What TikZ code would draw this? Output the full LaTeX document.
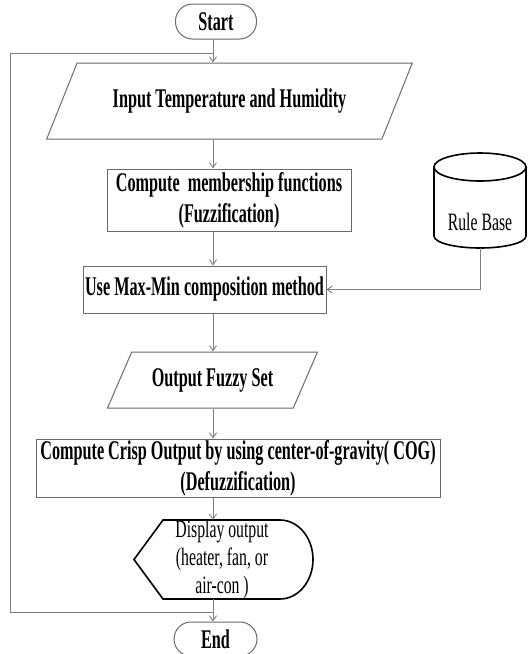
\documentclass[tikz,border=0pt]{standalone}
\usepackage{fontspec}
\setmainfont{Liberation Serif}
\newfontfamily\cnd[FakeStretch=0.6]{Liberation Serif}
\newfontfamily\cndr[FakeStretch=0.63]{Liberation Serif}
\usetikzlibrary{arrows.meta,shapes.geometric}
\definecolor{linegrey}{HTML}{808080}
\definecolor{boxgrey}{HTML}{6A6A6A}
\begin{document}
\begin{tikzpicture}[x=1pt,y=-1pt,
  lbl/.style={font=\cnd\bfseries\fontsize{27}{31}\selectfont, align=center, inner sep=0pt, text=black},
  rlbl/.style={font=\cndr\fontsize{25}{28}\selectfont, align=center, inner sep=0pt, text=black},
  conn/.style={draw=linegrey, line width=0.9pt},
  arr/.style={conn, -{Straight Barb[length=5pt,width=7pt]}},
  box/.style={draw=boxgrey, line width=1pt, lbl},
  term/.style={box, rounded corners=17pt},
  para/.style={box, trapezium, trapezium stretches=true},
  heavy/.style={draw=black, line width=1.6pt}]
\useasboundingbox (0,0) rectangle (531,654);
\coordinate (c) at (213,0);
% nodes
\node[term, minimum width=81pt, minimum height=35pt] (start) at (216,21.5) {Start};
\node[para, trapezium left angle=46.5, trapezium right angle=133.5, minimum width=367pt, minimum height=76pt] (in) at (229.5,101) {\raisebox{-3pt}{Input Temperature and Humidity}};
\node[box, minimum width=244pt, minimum height=62pt] (cm) at (229,200) {Compute\ \ membership functions\\(Fuzzification)};
\node[box, minimum width=243pt, minimum height=47pt] (use) at (204.5,289.5) {Use Max-Min composition method};
\node[para, trapezium left angle=52.5, trapezium right angle=127.5, minimum width=210pt, minimum height=56pt] (ofs) at (212.5,380) {Output Fuzzy Set};
\node[box, minimum width=404pt, minimum height=58pt] (crisp) at (238,468) {Compute Crisp Output by using center-of-gravity( COG)\\(Defuzzification)};
\node[rlbl, minimum height=79pt] (disp) at (222,559.5) {Display output\\(heater, fan, or\\air-con )};
\draw[heavy] (134,559.5) -- (163,520) -- (280,520) arc[start angle=-90, end angle=90, x radius=33, y radius=39.5] -- (163,599) -- cycle;
\node[term, minimum width=83pt, minimum height=34pt] (end) at (215.5,639) {End};
% rule base cylinder
\draw[heavy] (434,167) -- (434,236) arc[start angle=180, end angle=0, x radius=46, y radius=12] -- (526,167);
\draw[heavy] (480,167) ellipse[x radius=46, y radius=14];
\node[rlbl] (rb) at (480,222) {Rule Base};
\coordinate (rbb) at (480,248);
% connectors
\draw[arr] (start.south -| c) -- (in.north -| c);
\draw[arr] (in.south -| c) -- (cm.north -| c);
\draw[arr] (cm.south -| c) -- (use.north -| c);
\draw[arr] (use.south -| c) -- (ofs.north -| c);
\draw[arr] (ofs.south -| c) -- (crisp.north -| c);
\draw[arr] (crisp.south -| c) -- (disp.north -| c);
\draw[arr] (disp.south -| c) -- (end.north -| c);
\draw[arr] (rbb) |- (use.east);
\coordinate (j1) at (213,612);
\coordinate (j2) at (213,53);
\coordinate (lc) at (10,53);
\draw[conn] (j1) -| (lc) -- (j2);
\end{tikzpicture}
\end{document}
